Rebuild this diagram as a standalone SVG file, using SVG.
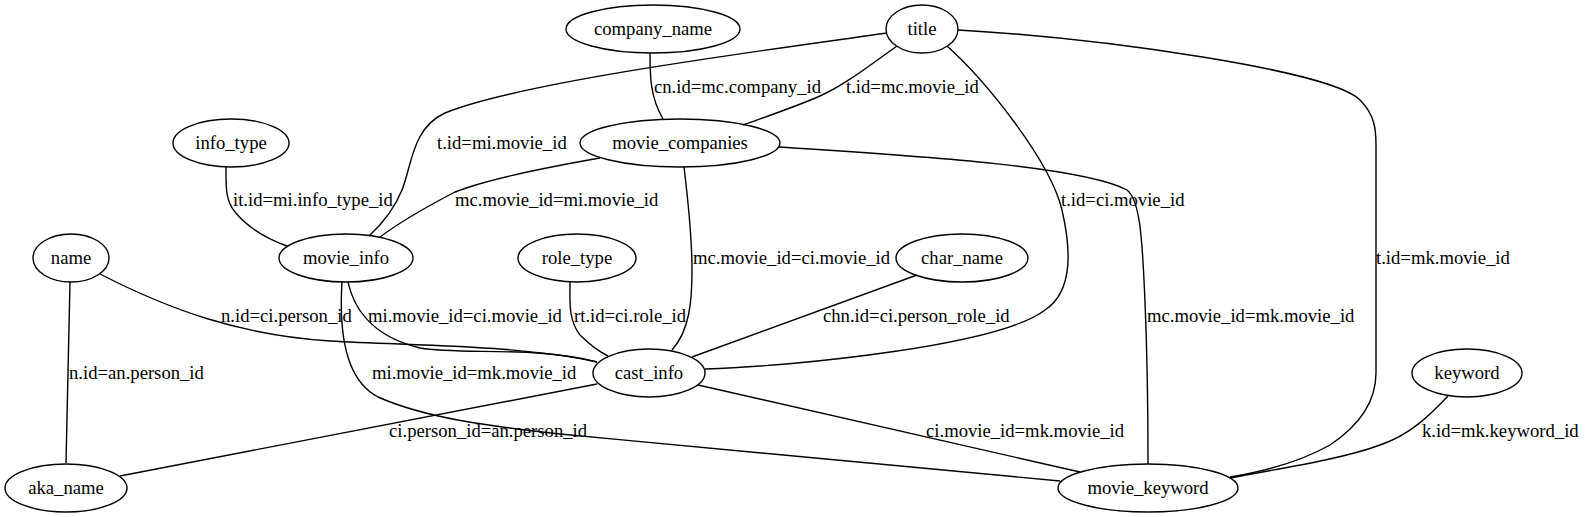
<svg xmlns="http://www.w3.org/2000/svg" width="1585" height="517" viewBox="0 0 1585 517" font-family="Liberation Serif, Times New Roman, serif" font-size="18.67">
<style>
.n ellipse{fill:none;stroke:#000;stroke-width:1.4}
.n text{text-anchor:middle}
#edges path{fill:none;stroke:#000;stroke-width:1.4}
</style>
<rect width="1585" height="517" fill="#fff"/>
<g id="edges">
<path d="M650,53 C650,75 650,97 663,119"/>
<path d="M897,46 C870,65 845,85 820,96 C795,107 765,117 743,125"/>
<path d="M887,33 C760,51 520,82 445,113 C412,128 412,165 402,190 C394,210 382,224 369,236"/>
<path d="M947,46 C985,80 1050,160 1062,210 C1070,245 1075,290 1045,310 C1000,345 800,366 705,369"/>
<path d="M958,30 C1100,38 1330,70 1360,100 C1375,115 1376,130 1376,145 L1376,373 C1376,400 1360,425 1330,445 C1300,462 1260,472 1230,477"/>
<path d="M600,158 C560,165 490,178 455,192 C430,205 400,222 380,237"/>
<path d="M684,167 C688,200 692,240 692,270 C692,300 690,330 672,350"/>
<path d="M779,147 C900,155 1080,165 1127,190 C1140,200 1142,240 1144,280 C1148,360 1148,420 1148,464"/>
<path d="M226,167 C226,185 225,200 235,212 C250,230 270,240 287,246"/>
<path d="M100,274 C170,310 240,335 330,341 C420,346 520,345 597,362"/>
<path d="M70,282 L66,463"/>
<path d="M570,282 C570,300 568,320 580,335 C590,345 600,352 608,356"/>
<path d="M917,275 L692,357"/>
<path d="M348,282 C352,300 365,335 420,348 C460,355 540,346 597,362"/>
<path d="M342,282 C339,330 345,380 378,397 C430,420 500,427 560,434 C750,452 950,470 1060,481"/>
<path d="M597,384 L120,476"/>
<path d="M698,385 L1080,472"/>
<path d="M1448,396 C1430,415 1410,435 1380,445 C1340,460 1270,470 1230,478"/>
</g>
<g id="edge-labels">
<text x="654" y="93">cn.id=mc.company_id</text>
<text x="846" y="93">t.id=mc.movie_id</text>
<text x="437" y="149">t.id=mi.movie_id</text>
<text x="233" y="206">it.id=mi.info_type_id</text>
<text x="455" y="206">mc.movie_id=mi.movie_id</text>
<text x="1061" y="206">t.id=ci.movie_id</text>
<text x="693" y="264">mc.movie_id=ci.movie_id</text>
<text x="1376" y="264">t.id=mk.movie_id</text>
<text x="221" y="322">n.id=ci.person_id</text>
<text x="368" y="322">mi.movie_id=ci.movie_id</text>
<text x="574" y="322">rt.id=ci.role_id</text>
<text x="823" y="322">chn.id=ci.person_role_id</text>
<text x="1147" y="322">mc.movie_id=mk.movie_id</text>
<text x="69" y="379">n.id=an.person_id</text>
<text x="372" y="379">mi.movie_id=mk.movie_id</text>
<text x="389" y="437">ci.person_id=an.person_id</text>
<text x="926" y="437">ci.movie_id=mk.movie_id</text>
<text x="1422" y="437">k.id=mk.keyword_id</text>
</g>
<g id="company_name" class="n"><ellipse cx="653" cy="29" rx="87" ry="24"/><text x="653" y="35">company_name</text></g>
<g id="title" class="n"><ellipse cx="922" cy="29" rx="36" ry="24"/><text x="922" y="35">title</text></g>
<g id="info_type" class="n"><ellipse cx="231" cy="143" rx="58" ry="24"/><text x="231" y="149">info_type</text></g>
<g id="movie_companies" class="n"><ellipse cx="680" cy="143" rx="100" ry="24"/><text x="680" y="149">movie_companies</text></g>
<g id="name" class="n"><ellipse cx="71" cy="258" rx="38" ry="24"/><text x="71" y="264">name</text></g>
<g id="movie_info" class="n"><ellipse cx="346" cy="258" rx="67" ry="24"/><text x="346" y="264">movie_info</text></g>
<g id="role_type" class="n"><ellipse cx="577" cy="258" rx="59" ry="24"/><text x="577" y="264">role_type</text></g>
<g id="char_name" class="n"><ellipse cx="962" cy="258" rx="66" ry="24"/><text x="962" y="264">char_name</text></g>
<g id="cast_info" class="n"><ellipse cx="649" cy="373" rx="56" ry="24"/><text x="649" y="379">cast_info</text></g>
<g id="keyword" class="n"><ellipse cx="1467" cy="373" rx="55" ry="24"/><text x="1467" y="379">keyword</text></g>
<g id="aka_name" class="n"><ellipse cx="66" cy="488" rx="61" ry="24"/><text x="66" y="494">aka_name</text></g>
<g id="movie_keyword" class="n"><ellipse cx="1148" cy="488" rx="90" ry="24"/><text x="1148" y="494">movie_keyword</text></g>
</svg>
